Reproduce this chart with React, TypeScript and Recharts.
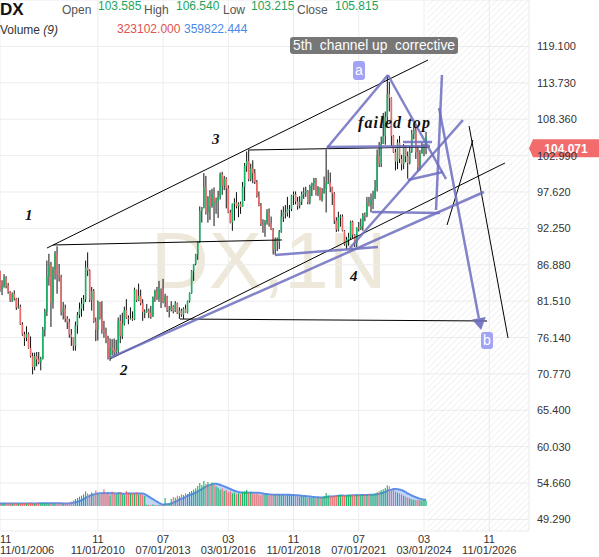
import React from "react";
import {
  ComposedChart,
  Bar,
  Area,
  XAxis,
  YAxis,
  CartesianGrid,
  ReferenceLine,
  ReferenceArea,
} from "recharts";

const W = 599;
const H = 557;
const SANS = "Arial, 'Liberation Sans', sans-serif";
const SERIF = "'Liberation Serif', 'Times New Roman', serif";

const UP = "#18b466";
const DOWN = "#ef6a68";
const LAVENDER = "#6d6dbf";

// monthly bars, Nov 2006 .. Apr 2024 (index 0 = Nov 2006)
const FIRST_OPEN = 85.9;
const CLOSE = [
  83.3, 83.7,
  84.9, 83.8, 82.9, 81.6, 82.6, 81.9, 80.6, 80.7, 78.1, 76.6, 76.1, 76.7,
  74.6, 73.4, 71.8, 73.4, 72.9, 72.5, 73.0, 77.3, 80.0, 85.1, 86.8, 81.3,
  86.2, 88.5, 85.4, 85.1, 79.9, 80.4, 78.9, 78.4, 76.6, 76.2, 74.9, 77.9,
  79.5, 80.4, 81.1, 81.8, 86.5, 86.0, 81.7, 83.0, 78.5, 77.3, 81.4, 79.0,
  77.3, 76.8, 75.9, 73.1, 74.6, 74.3, 74.0, 74.2, 78.6, 76.4, 78.2, 80.2,
  79.0, 78.9, 79.0, 78.8, 83.2, 81.6, 82.3, 81.2, 79.9, 79.9, 80.1, 79.8,
  79.2, 82.1, 83.0, 81.9, 83.3, 83.2, 81.4, 82.2, 80.2, 80.2, 80.7, 80.0,
  81.2, 79.7, 80.1, 79.5, 80.4, 79.8, 81.5, 82.7, 86.0, 87.0, 88.4, 90.3,
  94.8, 95.3, 98.4, 94.6, 96.9, 95.5, 97.3, 96.1, 96.3, 96.9, 100.2, 98.6,
  99.6, 98.2, 94.6, 93.1, 95.9, 96.1, 95.5, 95.9, 95.4, 98.4, 101.5, 102.2,
  99.5, 101.1, 100.4, 99.1, 97.0, 95.6, 92.9, 92.7, 93.1, 94.6, 93.0, 92.1,
  89.1, 90.6, 90.2, 91.8, 94.0, 94.6, 94.5, 95.1, 95.1, 97.1, 97.3, 96.2,
  95.6, 96.2, 97.3, 97.5, 97.8, 96.1, 98.5, 98.9, 99.4, 97.4, 98.3, 96.4,
  97.4, 98.1, 99.0, 99.0, 98.3, 97.4, 93.4, 92.1, 93.9, 94.0, 91.9, 89.9,
  90.6, 90.9, 93.2, 91.3, 90.0, 92.4, 92.2, 92.6, 94.2, 94.1, 96.0, 95.7,
  96.5, 96.7, 98.3, 103.0, 101.8, 104.7, 105.9, 108.7, 112.1, 111.5, 105.9, 103.5,
  102.1, 104.9, 102.5, 101.7, 104.3, 102.9, 101.9, 103.6, 106.2, 106.7, 103.5, 101.3,
  103.3, 104.2, 104.5, 105.8,
];
const HIGH = [
  86.0, 84.6,
  85.5, 85.2, 84.2, 83.0, 82.8, 83.1, 82.0, 82.0, 81.0, 78.4, 77.0, 77.8,
  76.9, 76.3, 73.9, 73.9, 74.0, 74.0, 73.3, 77.7, 80.4, 87.5, 88.5, 87.3,
  86.6, 88.9, 89.6, 87.0, 85.4, 81.4, 81.0, 79.3, 78.9, 77.4, 76.1, 78.5,
  79.9, 81.3, 82.0, 82.4, 87.5, 88.7, 86.2, 83.6, 83.3, 79.1, 81.6, 81.4,
  81.5, 78.6, 77.6, 76.4, 76.0, 75.9, 76.0, 75.8, 79.1, 79.5, 79.8, 80.7,
  81.8, 79.4, 80.6, 80.0, 83.5, 83.0, 84.1, 83.2, 81.8, 80.3, 81.1, 80.4,
  80.8, 82.2, 83.2, 83.6, 84.5, 83.4, 84.8, 82.6, 82.3, 80.8, 81.5, 80.9,
  81.5, 81.3, 80.6, 80.4, 80.6, 81.0, 81.6, 82.8, 86.1, 87.0, 88.5, 90.3,
  95.5, 95.4, 100.4, 100.0, 97.0, 97.9, 98.1, 98.3, 96.8, 97.8, 100.5, 100.6,
  100.0, 99.8, 98.6, 95.0, 95.9, 96.7, 97.6, 96.1, 96.2, 99.1, 101.9, 103.6,
  103.8, 101.8, 102.3, 101.0, 99.4, 97.7, 96.0, 93.6, 93.5, 95.1, 95.2, 94.0,
  92.3, 90.9, 90.9, 92.0, 95.0, 95.5, 95.7, 96.9, 95.7, 97.2, 97.7, 97.7,
  96.9, 97.0, 97.7, 98.3, 98.4, 97.9, 98.7, 99.0, 99.7, 99.7, 98.5, 98.3,
  98.2, 99.9, 103.9, 100.9, 100.5, 98.4, 97.6, 93.9, 94.7, 94.3, 94.3, 92.0,
  91.0, 91.6, 93.4, 93.4, 91.4, 92.4, 93.2, 93.7, 94.5, 94.6, 96.9, 96.9,
  97.4, 97.8, 99.4, 103.9, 105.0, 105.8, 109.3, 109.5, 114.8, 113.9, 111.6, 106.0,
  104.0, 105.4, 105.9, 103.1, 104.7, 104.5, 103.6, 104.4, 106.8, 107.3, 107.1, 104.3,
  103.8, 104.9, 104.7, 106.5,
];
const LOW = [
  82.9, 82.4,
  83.5, 83.4, 82.6, 81.4, 81.4, 81.6, 80.2, 80.4, 78.0, 76.4, 74.9, 75.6,
  74.5, 73.2, 70.7, 71.3, 71.9, 72.2, 71.3, 72.9, 76.3, 79.3, 83.8, 77.7,
  80.4, 84.7, 82.6, 84.4, 79.4, 78.8, 78.4, 77.4, 76.1, 74.9, 74.2, 74.2,
  76.7, 79.0, 79.2, 80.1, 81.4, 85.2, 81.4, 80.1, 78.3, 75.6, 75.7, 78.8,
  76.7, 76.1, 75.3, 72.9, 72.7, 73.5, 73.4, 73.4, 73.8, 75.3, 75.9, 77.9,
  78.9, 78.1, 78.8, 78.6, 78.7, 81.4, 81.5, 80.9, 78.6, 79.0, 79.8, 79.0,
  78.9, 79.2, 81.4, 81.7, 81.4, 80.5, 81.2, 80.6, 79.9, 79.1, 80.0, 79.7,
  79.9, 79.6, 78.9, 79.2, 78.9, 79.8, 79.7, 81.3, 82.6, 84.5, 86.8, 87.6,
  90.1, 93.1, 95.2, 94.3, 93.1, 93.5, 95.3, 92.6, 94.4, 93.8, 96.5, 97.2,
  97.9, 95.2, 94.5, 93.0, 91.9, 93.4, 95.2, 93.9, 94.4, 95.4, 96.3, 100.6,
  99.2, 99.2, 98.9, 98.8, 96.8, 95.5, 92.6, 91.6, 91.0, 92.8, 92.5, 92.0,
  88.4, 88.3, 88.9, 89.2, 91.6, 93.2, 93.7, 94.0, 93.8, 94.8, 95.7, 95.8,
  95.0, 95.2, 95.7, 96.6, 96.9, 95.8, 95.8, 97.0, 97.9, 97.1, 97.0, 96.4,
  96.2, 97.4, 94.6, 98.8, 97.6, 95.7, 92.9, 91.7, 91.8, 92.5, 91.8, 89.7,
  89.2, 89.7, 90.6, 90.8, 89.5, 89.5, 91.8, 92.0, 91.9, 93.3, 93.9, 95.5,
  94.6, 95.1, 96.6, 97.7, 101.3, 101.3, 104.7, 104.6, 107.7, 109.5, 104.4, 103.4,
  100.8, 101.0, 101.9, 100.8, 101.0, 102.0, 99.6, 101.7, 103.4, 105.4, 102.5, 100.6,
  100.8, 103.3, 102.9, 103.2,
];
// volume in thousands
const VOLUME = [
  150, 140,
  155, 130, 160, 150, 145, 170, 150, 160, 140, 155, 165, 150,
  175, 160, 150, 145, 170, 160, 180, 150, 160, 170, 155, 165,
  150, 140, 160, 175, 150, 145, 155, 165, 200, 260, 330, 420,
  480, 560, 620, 700, 880, 760, 690, 820, 650, 930, 720, 680,
  740, 1010, 700, 760, 640, 860, 720, 690, 780, 820, 700, 650,
  900, 760, 720, 760, 700, 820, 680, 720, 650, 600, 80, 60,
  50, 90, 40, 60, 70, 50, 45, 480, 60, 120, 420, 540,
  500, 620, 580, 700, 660, 760, 720, 840, 900, 980, 1060, 1200,
  1380, 1260, 1500, 1320, 1440, 1250, 1400, 1300, 1180, 1100, 980, 1050,
  900, 960, 820, 880, 760, 800, 700, 760, 720, 840, 880, 960,
  780, 820, 740, 700, 760, 680, 640, 700, 660, 720, 620, 680,
  640, 700, 740, 660, 620, 700, 680, 640, 660, 600, 640, 580,
  620, 560, 600, 540, 560, 500, 520, 480, 500, 460, 520, 480,
  540, 600, 780, 640, 580, 560, 600, 620, 640, 660, 600, 640,
  620, 680, 640, 680, 620, 700, 660, 640, 680, 700, 660, 720,
  680, 700, 760, 820, 880, 960, 1000, 1080, 1240, 1180, 900, 1060,
  860, 800, 760, 700, 620, 560, 500, 450, 400, 380, 360, 370,
  350, 340, 360, 330, 323.1,
];

const PRICE_NOW = 104.071;
const Y_TICKS = [49.29, 54.66, 60.03, 65.4, 70.77, 76.14, 81.51, 86.88, 92.25, 97.62, 102.99, 108.36, 113.73, 119.1];
const X_TICKS = [0, 48, 80, 112, 144, 176, 208, 240];
const TICK_MONTHS = ["11", "11", "07", "03", "11", "07", "03", "11"];
const TICK_DATES = ["11/01/2006", "11/01/2010", "07/01/2013", "03/01/2016", "11/01/2018", "07/01/2021", "03/01/2024", "11/01/2026"];

// annotations: [month index, price, month index, price]
const BLACK_LINES = [
  [23.06, 89.35, 209.96, 117.1],
  [26.0, 89.8, 138.3, 90.54],
  [121.7, 103.82, 210.9, 104.26],
  [53.96, 72.97, 247.7, 101.9],
  [88.3, 78.87, 238.9, 78.58],
  [219.3, 92.75, 232.0, 105.3],
  [230.1, 107.36, 249.2, 76.07],
];
const PURPLE_LINES = [
  [53.96, 73.12, 237.4, 97.62],
  [134.9, 88.32, 185.4, 89.5],
  [171.7, 89.35, 227.1, 108.25],
  [160.4, 104.12, 190.3, 114.89],
  [190.3, 114.89, 218.8, 99.54],
  [160.4, 104.26, 210.9, 104.41],
  [197.7, 105.0, 211.9, 105.0],
  [200.1, 99.39, 217.3, 100.57],
  [182.5, 94.67, 215.8, 94.52],
  [216.8, 114.89, 213.9, 94.96],
];
const ARROW_LINE = [215.4, 110.02, 236.0, 77.25];

const data = CLOSE.map((c, i) => {
  const open = i === 0 ? FIRST_OPEN : CLOSE[i - 1];
  const win = VOLUME.slice(Math.max(0, i - 8), i + 1);
  return {
    m: i,
    open,
    close: c,
    high: Math.max(HIGH[i], open, c),
    low: Math.min(LOW[i], open, c),
    vol: VOLUME[i],
    ma: win.reduce((a, b) => a + b, 0) / win.length,
  };
});

function Candle(props: any) {
  const { x, y, width, height, payload } = props;
  if (x == null || !payload) return null;
  const top = Math.min(y, y + height);
  const h = Math.abs(height);
  const span = payload.high - payload.low || 1;
  const toY = (v: number) => top + ((payload.high - v) / span) * h;
  const cx = x + width / 2;
  const yo = toY(payload.open);
  const yc = toY(payload.close);
  const up = payload.close >= payload.open;
  return (
    <g>
      <rect x={cx - 0.5} y={top} width={1} height={Math.max(h, 1)} fill="#111" />
      <rect
        x={cx - 0.8}
        y={Math.min(yo, yc)}
        width={1.6}
        height={Math.max(Math.abs(yc - yo), 1)}
        fill={up ? UP : DOWN}
      />
    </g>
  );
}

function VolBar(props: any) {
  const { x, y, width, height, payload } = props;
  if (x == null || !payload) return null;
  return (
    <rect
      x={x + width / 2 - 0.55}
      y={Math.min(y, y + height)}
      width={1.1}
      height={Math.abs(height)}
      fill={payload.close >= payload.open ? UP : DOWN}
    />
  );
}

function PriceTick(p: any) {
  return (
    <text x={537} y={p.y + 4} fontSize={11} fill="#333" fontFamily={SANS}>
      {Number(p.payload.value).toFixed(3)}
    </text>
  );
}

function DateTick(p: any) {
  const i = X_TICKS.indexOf(p.payload.value);
  const first = i === 0;
  const tx = first ? 0 : p.x;
  const anchor = first ? "start" : "middle";
  return (
    <g fontSize={11} fill="#333" fontFamily={SANS}>
      <text x={tx} y={543} textAnchor={anchor}>{TICK_MONTHS[i]}</text>
      <text x={tx} y={554} textAnchor={anchor}>{TICK_DATES[i]}</text>
    </g>
  );
}

// red last-price tag hanging off the right end of the price line
function PriceTag(p: any) {
  const y = p.y1;
  const x = Math.max(p.x1, p.x2);
  return (
    <g>
      <path d={`M${x} ${y} L${x + 4} ${y - 9} L${W} ${y - 9} L${W} ${y + 9} L${x + 4} ${y + 9} Z`} fill="#f36c6c" />
      <text x={(x + 4 + W) / 2} y={y + 4.5} textAnchor="middle" fill="#fff" fontSize={12} fontWeight="bold" fontFamily={SANS}>
        {PRICE_NOW.toFixed(3)}
      </text>
    </g>
  );
}

function ArrowShape(p: any) {
  const { x1, y1, x2, y2 } = p;
  const dx = x2 - x1;
  const dy = y2 - y1;
  const len = Math.sqrt(dx * dx + dy * dy) || 1;
  const ux = dx / len;
  const uy = dy / len;
  const bx = x2 - ux * 12;
  const by = y2 - uy * 12;
  return (
    <g>
      <line x1={x1} y1={y1} x2={bx} y2={by} stroke={LAVENDER} strokeWidth={2.5} strokeOpacity={0.85} />
      <path d={`M${x2} ${y2} L${bx - uy * 7} ${by + ux * 7} L${bx + uy * 7} ${by - ux * 7} Z`} fill={LAVENDER} fillOpacity={0.9} />
    </g>
  );
}

export default function App() {
  return (
    <div style={{ position: "absolute", left: 0, top: 0, width: W, height: H, background: "#fff" }}>
      <svg width={W} height={H} style={{ position: "absolute", left: 0, top: 0 }}>
        <defs>
          <pattern id="hatch" patternUnits="userSpaceOnUse" width={4.5} height={4.5} patternTransform="rotate(45)">
            <line x1={0} y1={0} x2={0} y2={4.5} stroke="#e4e4e4" strokeWidth={1} />
          </pattern>
        </defs>
        <text x={151} y={288} fontSize={80} fontFamily={SANS} fill="#e2d9c2" fillOpacity={0.6}>
          DX,1N
        </text>
      </svg>
      <div style={{ position: "absolute", left: 0, top: 0 }}>
        <ComposedChart width={W} height={H} data={data} margin={{ top: 0, right: 0, bottom: 0, left: 0 }}>
          <CartesianGrid xAxisId="main" yAxisId="price" stroke="#ececec" />
          <XAxis
            xAxisId="main"
            dataKey="m"
            type="number"
            domain={[0, 259.5]}
            ticks={X_TICKS}
            interval={0}
            allowDataOverflow
            height={26}
            axisLine={false}
            tickLine={false}
            tick={<DateTick />}
          />
          <XAxis xAxisId="vol" dataKey="m" type="number" domain={[0, 259.5]} allowDataOverflow hide />
          <YAxis
            yAxisId="price"
            orientation="right"
            type="number"
            width={70}
            domain={[47.58, 125.96]}
            ticks={Y_TICKS}
            interval={0}
            allowDataOverflow
            axisLine={false}
            tickLine={false}
            tick={<PriceTick />}
          />
          <YAxis yAxisId="vol" type="number" domain={[-1500, 30360]} allowDataOverflow hide />
          <ReferenceArea
            xAxisId="main"
            yAxisId="price"
            x1={209.5}
            x2={259.5}
            fill="url(#hatch)"
            fillOpacity={1}
            stroke="none"
          />
          <Bar
            xAxisId="vol"
            yAxisId="vol"
            dataKey="vol"
            barSize={2}
            shape={<VolBar />}
            isAnimationActive={false}
          />
          <Area
            xAxisId="vol"
            yAxisId="vol"
            dataKey="ma"
            type="linear"
            baseValue={0}
            stroke="#5b8eea"
            strokeWidth={2}
            fill="#8fb2ee"
            fillOpacity={0.55}
            dot={false}
            activeDot={false}
            isAnimationActive={false}
          />
          <Bar
            xAxisId="main"
            yAxisId="price"
            dataKey={(d: any) => [d.low, d.high]}
            barSize={2}
            shape={<Candle />}
            isAnimationActive={false}
          />
          {BLACK_LINES.map((s, i) => (
            <ReferenceLine
              key={`k${i}`}
              xAxisId="main"
              yAxisId="price"
              segment={[{ x: s[0], y: s[1] }, { x: s[2], y: s[3] }]}
              stroke="#000"
              strokeWidth={1}
            />
          ))}
          {PURPLE_LINES.map((s, i) => (
            <ReferenceLine
              key={`p${i}`}
              xAxisId="main"
              yAxisId="price"
              segment={[{ x: s[0], y: s[1] }, { x: s[2], y: s[3] }]}
              stroke={LAVENDER}
              strokeWidth={2.5}
              strokeOpacity={0.85}
            />
          ))}
          <ReferenceLine
            xAxisId="main"
            yAxisId="price"
            segment={[{ x: ARROW_LINE[0], y: ARROW_LINE[1] }, { x: ARROW_LINE[2], y: ARROW_LINE[3] }]}
            shape={ArrowShape}
          />
          <ReferenceLine xAxisId="main" yAxisId="price" y={PRICE_NOW} shape={PriceTag} />
        </ComposedChart>
      </div>
      <svg width={W} height={H} style={{ position: "absolute", left: 0, top: 0, pointerEvents: "none" }}>
        <g fontFamily={SANS}>
          <text x={0} y={15} fontSize={17} fontWeight="bold" fill="#111">DX</text>
          <text x={62} y={13.5} fontSize={12} fill="#555">Open</text>
          <text x={98} y={10} fontSize={12} fill="#1ca35a">103.585</text>
          <text x={144} y={13.5} fontSize={12} fill="#555">High</text>
          <text x={176} y={10} fontSize={12} fill="#1ca35a">106.540</text>
          <text x={223} y={13.5} fontSize={12} fill="#555">Low</text>
          <text x={251} y={10} fontSize={12} fill="#1ca35a">103.215</text>
          <text x={297} y={13.5} fontSize={12} fill="#555">Close</text>
          <text x={335} y={10} fontSize={12} fill="#1ca35a">105.815</text>
          <text x={0} y={34} fontSize={12} fill="#333">
            Volume <tspan fontStyle="italic">(9)</tspan>
          </text>
          <text x={117} y={32.5} fontSize={12} fill="#e0524f">323102.000</text>
          <text x={184} y={32.5} fontSize={12} fill="#4b88e6">359822.444</text>
          <rect x={290} y={37} width={168} height={17} rx={3} fill="#777" />
          <text x={293} y={50} fontSize={14} fill="#fff" textLength={162} lengthAdjust="spacingAndGlyphs" style={{ whiteSpace: "pre" }}>
            5th  channel up  corrective
          </text>
          <rect x={353} y={61} width={12} height={19} rx={3} fill="#a3a3f5" />
          <text x={359} y={75} fontSize={14} fill="#fff" textAnchor="middle">a</text>
          <rect x={481} y={332} width={12} height={17} rx={3} fill="#a3a3f5" />
          <text x={487} y={345} fontSize={14} fill="#fff" textAnchor="middle">b</text>
        </g>
        <g fontFamily={SERIF} fontStyle="italic" fontWeight="bold" fill="#111" fontSize={15}>
          <text x={25} y={220}>1</text>
          <text x={120} y={375}>2</text>
          <text x={212} y={144}>3</text>
          <text x={350} y={281}>4</text>
          <text x={358} y={128} fontSize={16} textLength={72}>failed top</text>
        </g>
      </svg>
    </div>
  );
}
